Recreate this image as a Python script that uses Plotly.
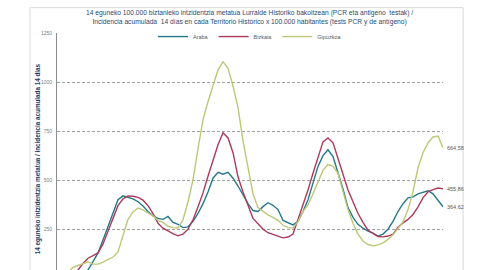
import plotly.graph_objects as go

# sample index (regular spacing along the time axis)
days = list(range(76))

araba = [5, 10, 15, 25, 42, 85, 129, 195, 260, 330, 400, 420, 414, 405, 390, 368, 340, 318, 305, 300,
         315, 285, 275, 258, 262, 290, 330, 380, 440, 510, 540, 530, 540, 510, 470, 425, 380, 345, 340, 365,
         385, 372, 350, 295, 282, 272, 290, 340, 400, 490, 570, 625, 655, 620, 540, 455, 360, 310, 275, 255,
         240, 230, 215, 225, 250, 290, 340, 380, 410, 415, 430, 440, 446, 430, 395, 364.62]

bizkaia = [10, 25, 42, 75, 102, 115, 129, 175, 240, 315, 370, 405, 420, 418, 412, 398, 370, 330, 280, 255,
           240, 228, 216, 225, 250, 298, 365, 435, 520, 603, 680, 742, 715, 640, 517, 440, 375, 305, 278, 250,
           232, 225, 215, 206, 210, 225, 298, 370, 450, 535, 615, 695, 715, 690, 610, 525, 450, 390, 330, 285,
           245, 228, 213, 211, 215, 225, 260, 282, 300, 325, 364, 410, 440, 452, 460, 455.86]

gipuzkoa = [30, 55, 65, 75, 83, 72, 72, 82, 93, 108, 134, 220, 300, 338, 358, 348, 333, 318, 295, 285,
            265, 258, 256, 298, 390, 502, 660, 808, 900, 985, 1062, 1104, 1070, 980, 870, 700, 560, 430, 360, 340,
            323, 310, 295, 270, 258, 256, 290, 340, 375, 430, 495, 550, 580, 570, 535, 440, 350, 280, 225, 190,
            172, 165, 170, 180, 198, 221, 252, 287, 350, 440, 563, 640, 690, 720, 725, 664.58]

series_names = ["Araba", "Bizkaia", "Gipuzkoa"]
series_values = [araba, bizkaia, gipuzkoa]
series_colors = ["#25788A", "#AE3A5A", "#BCC878"]
end_labels = ["364,62", "455,86", "664,58"]

y_ticks = [250, 500, 750, 1000, 1250]
y_tick_labels = ["250", "500", "750", "1000", "1250"]

title_text = ("14 eguneko 100.000 biztanleko intzidentzia metatua Lurralde Historiko bakoitzean (PCR eta antigeno  testak) /<br>"
              "Incidencia acumulada  14 días en cada Territorio Histórico x 100.000 habitantes (tests PCR y de antígeno)")
y_title = "14 eguneko intzidentzia metatua / Incidencia acumulada 14 días"

FONT = "Liberation Sans"

fig = go.Figure()
for name, vals, col in zip(series_names, series_values, series_colors):
    fig.add_trace(go.Scatter(x=days, y=vals, mode="lines", name=name,
                             line=dict(color=col, width=1.4)))

# end-of-series labels
for vals, lab in zip(series_values, end_labels):
    fig.add_annotation(x=days[-1], y=vals[-1], text=lab, xref="x", yref="y",
                       xanchor="left", yanchor="middle", xshift=2, showarrow=False,
                       font=dict(family=FONT, size=5.5, color="#595959"))

# y axis title
fig.add_annotation(x=-0.05, y=0.47, xref="paper", yref="paper", text="<b>" + y_title + "</b>",
                   textangle=-90, showarrow=False, xanchor="center", yanchor="middle",
                   font=dict(family=FONT, size=6.3, color="#1F3864"))

# chart frame
fig.add_shape(type="rect", xref="paper", yref="paper", x0=-0.07, x1=1.052, y0=-0.1, y1=1.107,
              line=dict(color="#D9D9D9", width=1), fillcolor="rgba(0,0,0,0)", layer="below")

fig.update_layout(
    width=480, height=270,
    margin=dict(l=57, r=37, t=33, b=0),
    paper_bgcolor="white", plot_bgcolor="white",
    title=dict(text=title_text, x=0.52, xanchor="center", y=0.945, yanchor="middle",
               font=dict(family=FONT, size=6.7, color="#2B4A6F")),
    showlegend=True,
    legend=dict(orientation="h", x=0.5, xanchor="center", y=0.985, yanchor="middle",
                font=dict(family=FONT, size=5.5, color="#595959"), itemwidth=30,
                bgcolor="rgba(0,0,0,0)"),
    xaxis=dict(range=[-2.2, 75], visible=False, showgrid=False, zeroline=False),
    yaxis=dict(range=[42, 1250], tickvals=y_ticks, ticktext=y_tick_labels,
               showgrid=True, gridcolor="#A0A0A0", griddash="3px,2px", gridwidth=1,
               showline=True, linecolor="#8C8C8C", linewidth=1, zeroline=False,
               ticks="", ticklabelstandoff=3,
               tickfont=dict(family=FONT, size=5, color="#7F7F7F")),
)

fig.write_html("out.html")
